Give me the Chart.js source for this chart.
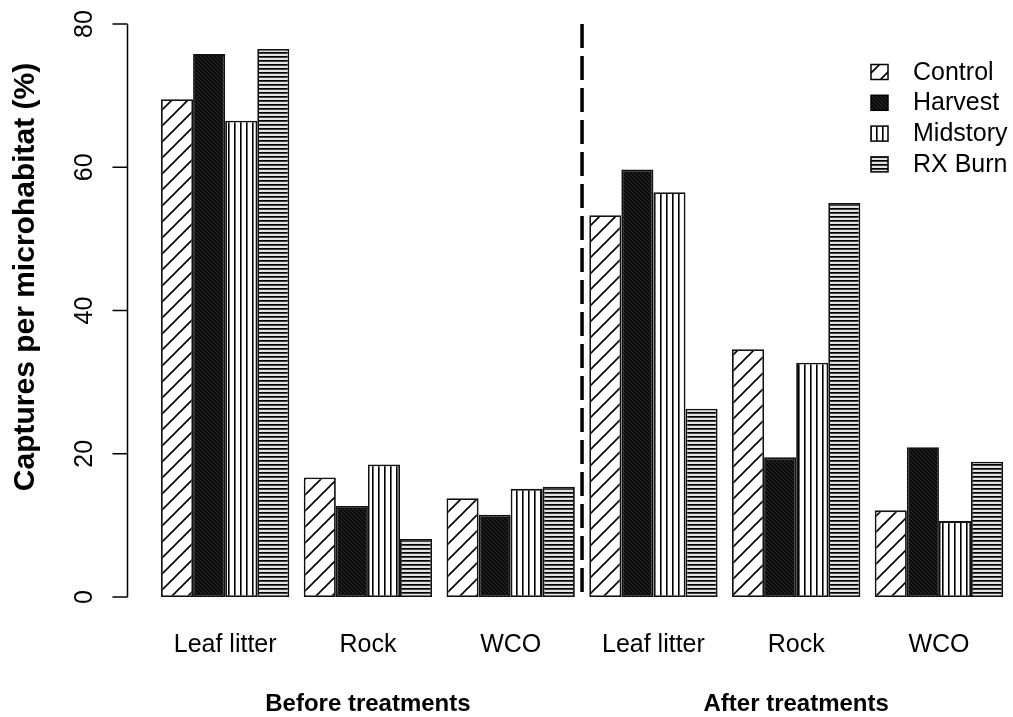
<!DOCTYPE html>
<html>
<head>
<meta charset="utf-8">
<script src="https://cdn.jsdelivr.net/npm/chart.js@4.4.1/dist/chart.umd.min.js"></script>
<style>
  html, body { margin: 0; padding: 0; background: #fff; }
  #wrap { width: 1013px; height: 717px; }
</style>
</head>
<body>
<div id="wrap"><canvas id="chart" width="1013" height="717"></canvas></div>
<script>
// data
const categories = ['Leaf litter', 'Rock', 'WCO', 'Leaf litter', 'Rock', 'WCO'];
const periods = ['Before treatments', 'After treatments'];
const periodCenters = [1, 4]; // category index under which each period label sits
const treatments = ['Control', 'Harvest', 'Midstory', 'RX Burn'];
const control = [69.5, 16.7, 13.8, 53.3, 34.6, 12.1];
const harvest = [75.8, 12.7, 11.5, 59.7, 19.5, 20.9];
const midstory = [66.5, 18.5, 15.1, 56.5, 32.7, 10.6];
const rxBurn = [76.5, 8.1, 15.4, 26.3, 55.0, 18.9];
const yTicks = [0, 20, 40, 60, 80];

const FONT = "'Liberation Sans', Arial, Helvetica, sans-serif";

// hatch fills, like R's density/angle shading
function makePattern(w, h, draw) {
  const c = document.createElement('canvas');
  c.width = w; c.height = h;
  const g = c.getContext('2d');
  draw(g, w, h);
  return g.createPattern(c, 'repeat');
}
const ctx = document.getElementById('chart').getContext('2d');

const patControl = makePattern(16, 16, (g, w, h) => {
  g.fillStyle = '#fff'; g.fillRect(0, 0, w, h);
  g.strokeStyle = '#000'; g.lineWidth = 1.6;
  g.beginPath();
  g.moveTo(-2, h + 2); g.lineTo(w + 2, -2);
  g.moveTo(-2, 2); g.lineTo(2, -2);
  g.moveTo(w - 2, h + 2); g.lineTo(w + 2, h - 2);
  g.stroke();
});
const patHarvest = makePattern(4, 4, (g, w, h) => {
  g.fillStyle = '#0c0c0c'; g.fillRect(0, 0, w, h);
  g.strokeStyle = '#363636'; g.lineWidth = 0.8;
  g.beginPath();
  g.moveTo(-1, -1); g.lineTo(w + 1, h + 1);
  g.stroke();
});
const patMidstory = makePattern(6, 6, (g, w, h) => {
  g.fillStyle = '#fff'; g.fillRect(0, 0, w, h);
  g.fillStyle = '#000'; g.fillRect(0, 0, 1.6, h);
});
const patRx = makePattern(4, 4, (g, w, h) => {
  g.fillStyle = '#e2e2e2'; g.fillRect(0, 0, w, h);
  g.fillStyle = '#000'; g.fillRect(0, 0, w, 1.7);
});
const fills = [patControl, patHarvest, patMidstory, patRx];
const series = [control, harvest, midstory, rxBurn];

const extras = {
  id: 'extras',
  afterDatasetsDraw(chart) {
    const c = chart.ctx;
    const x = chart.scales.x;
    const y = chart.scales.y;
    c.save();

    // dashed separator between the two periods
    const xs = x.getPixelForValue(2.5);
    c.strokeStyle = '#000';
    c.lineWidth = 3.5;
    c.setLineDash([24, 8]);
    c.beginPath();
    c.moveTo(xs, y.getPixelForValue(80));
    c.lineTo(xs, y.getPixelForValue(0) + 3);
    c.stroke();
    c.setLineDash([]);

    // y axis, R style
    const ax = 127.5;
    c.lineWidth = 1.5;
    c.beginPath();
    c.moveTo(ax, y.getPixelForValue(yTicks[0]));
    c.lineTo(ax, y.getPixelForValue(yTicks[yTicks.length - 1]));
    yTicks.forEach(t => {
      const py = y.getPixelForValue(t);
      c.moveTo(ax, py); c.lineTo(ax - 15, py);
    });
    c.stroke();

    c.fillStyle = '#000';
    c.font = '25px ' + FONT;
    c.textAlign = 'center';
    c.textBaseline = 'alphabetic';
    yTicks.forEach(t => {
      c.save();
      c.translate(92, y.getPixelForValue(t));
      c.rotate(-Math.PI / 2);
      c.fillText(String(t), 0, 0);
      c.restore();
    });

    c.save();
    c.font = 'bold 30px ' + FONT;
    c.translate(34, 277);
    c.rotate(-Math.PI / 2);
    c.fillText('Captures per microhabitat (%)', 0, 0);
    c.restore();

    // category labels
    c.font = '25px ' + FONT;
    categories.forEach((lab, i) => {
      c.fillText(lab, x.getPixelForValue(i), 652);
    });
    c.font = 'bold 24px ' + FONT;
    periods.forEach((lab, i) => {
      c.fillText(lab, x.getPixelForValue(periodCenters[i]), 711);
    });

    // legend
    c.font = '25px ' + FONT;
    c.textAlign = 'left';
    treatments.forEach((lab, i) => {
      const base = 79.5 + i * 30.8;
      c.fillStyle = fills[i];
      c.fillRect(871, base - 15, 17, 15);
      c.strokeStyle = '#000';
      c.lineWidth = 1.5;
      c.strokeRect(871, base - 15, 17, 15);
      c.fillStyle = '#000';
      c.fillText(lab, 913, base);
    });

    c.restore();
  }
};

new Chart(ctx, {
  type: 'bar',
  data: {
    labels: categories,
    datasets: treatments.map((name, i) => ({
      label: name,
      data: series[i],
      backgroundColor: fills[i],
      borderColor: '#111',
      borderWidth: 1.8,
      borderSkipped: false,
      categoryPercentage: 0.899,
      barPercentage: 1
    }))
  },
  options: {
    responsive: false,
    animation: false,
    layout: { padding: { left: 153.8, right: 2.7, top: 24, bottom: 120 } },
    plugins: { legend: { display: false }, tooltip: { enabled: false } },
    scales: {
      x: { display: false },
      y: { display: false, min: 0, max: 80 }
    }
  },
  plugins: [extras]
});
</script>
</body>
</html>
